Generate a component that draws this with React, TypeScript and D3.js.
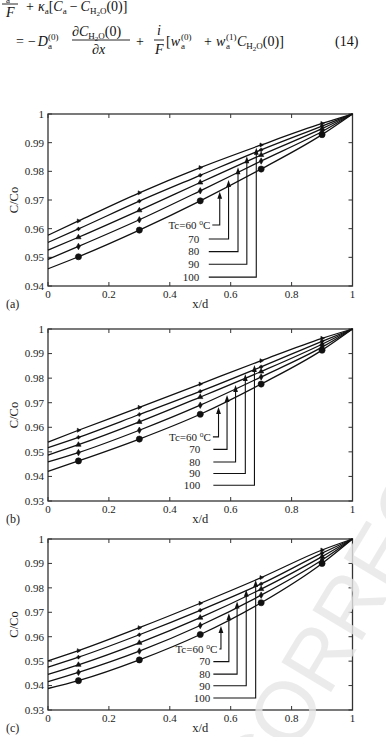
import React from 'react';
import * as d3 from 'd3';

// x/d positions of the computed points (markers drawn at 0.1 ... 0.9)
const X_POS = [0, 0.1, 0.3, 0.5, 0.7, 0.9, 1];
const TC = [60, 70, 80, 90, 100];
const X_TICKS = [0, 0.2, 0.4, 0.6, 0.8, 1];

// panel (a)
const A_TC60 = [0.946, 0.9502, 0.9595, 0.9697, 0.9808, 0.9928, 1];
const A_TC70 = [0.9493, 0.9538, 0.9631, 0.9732, 0.9836, 0.9939, 1];
const A_TC80 = [0.9525, 0.957, 0.9664, 0.9761, 0.9857, 0.9949, 1];
const A_TC90 = [0.9552, 0.9599, 0.9696, 0.9786, 0.9875, 0.9958, 1];
const A_TC100 = [0.9577, 0.9627, 0.9725, 0.9813, 0.9892, 0.9967, 1];
const A_ARROW_X = [0.564, 0.593, 0.624, 0.653, 0.684];
const A_ARROW_TIP = [0.9729, 0.977, 0.9814, 0.9853, 0.9882];
const A_LABEL_Y = [0.9613, 0.9564, 0.952, 0.9476, 0.9431];

// panel (b)
const B_TC60 = [0.9421, 0.9463, 0.9552, 0.9653, 0.9776, 0.9914, 1];
const B_TC70 = [0.9459, 0.9497, 0.9588, 0.969, 0.9805, 0.9926, 1];
const B_TC80 = [0.9487, 0.9529, 0.9622, 0.9723, 0.9827, 0.9938, 1];
const B_TC90 = [0.9517, 0.9559, 0.9652, 0.9746, 0.9846, 0.995, 1];
const B_TC100 = [0.954, 0.9588, 0.9681, 0.9776, 0.9871, 0.9962, 1];
const B_ARROW_X = [0.56, 0.588, 0.616, 0.648, 0.678];
const B_ARROW_TIP = [0.9683, 0.9731, 0.9772, 0.9817, 0.9853];
const B_LABEL_Y = [0.9561, 0.951, 0.9459, 0.9412, 0.9364];

// panel (c)
const C_TC60 = [0.9388, 0.942, 0.9505, 0.9609, 0.9739, 0.99, 1];
const C_TC70 = [0.9416, 0.9454, 0.9541, 0.9646, 0.977, 0.9914, 1];
const C_TC80 = [0.9446, 0.9485, 0.9575, 0.9678, 0.9795, 0.9928, 1];
const C_TC90 = [0.9475, 0.9516, 0.9608, 0.9708, 0.9816, 0.9942, 1];
const C_TC100 = [0.9501, 0.9543, 0.9637, 0.9737, 0.9842, 0.9955, 1];
const C_ARROW_X = [0.568, 0.594, 0.621, 0.651, 0.682];
const C_ARROW_TIP = [0.9644, 0.9696, 0.9744, 0.9792, 0.9832];
const C_LABEL_Y = [0.955, 0.9498, 0.9447, 0.9399, 0.9349];

const W = 386;
const H = 737;
const LEFT = 48;
const RIGHT = 352.5;
const SERIF = '"Liberation Serif", "Times New Roman", Times, serif';
const INK = '#111';

const markerPath = (tc: number) => {
  if (tc === 60) return d3.symbol(d3.symbolCircle, 30)();
  if (tc === 70) return d3.symbol(d3.symbolDiamond, 12)();
  if (tc === 80) return d3.symbol(d3.symbolTriangle, 12)();
  if (tc === 90) return d3.symbol(d3.symbolCross, 6)();
  return d3.symbol(d3.symbolTriangle, 7)();
};

type PanelProps = {
  top: number;
  bottom: number;
  yMin: number;
  series: number[][];
  arrowX: number[];
  arrowTip: number[];
  labelY: number[];
  tag: string;
  numEnd: number;
  leaderStart: number;
  tcEnd: number;
};

const Panel = ({ top, bottom, yMin, series, arrowX, arrowTip, labelY, tag, numEnd, leaderStart, tcEnd }: PanelProps) => {
  const x = d3.scaleLinear().domain([0, 1]).range([LEFT, RIGHT]);
  const y = d3.scaleLinear().domain([yMin, 1]).range([bottom, top]);
  const yTicks = y.ticks(Math.round((1 - yMin) * 100));
  const line = d3.line<number>()
    .x((_, i) => x(X_POS[i]))
    .y(d => y(d))
    .curve(d3.curveMonotoneX);
  const fmt = (v: number) => (Math.abs(v - 1) < 1e-9 ? '1' : v.toFixed(2));

  return (
    <g>
      <rect x={LEFT} y={top} width={RIGHT - LEFT} height={bottom - top} fill="none" stroke="#333" strokeWidth={1.3} />
      {X_TICKS.map(t => (
        <g key={'x' + t}>
          <line x1={x(t)} x2={x(t)} y1={bottom} y2={bottom - 4} stroke="#333" />
          <line x1={x(t)} x2={x(t)} y1={top} y2={top + 4} stroke="#333" />
          <text x={x(t)} y={bottom + 12} textAnchor="middle" fontSize={11} fill="#222">{String(t)}</text>
        </g>
      ))}
      {yTicks.map(t => (
        <g key={'y' + t}>
          <line x1={LEFT} x2={LEFT + 4} y1={y(t)} y2={y(t)} stroke="#333" />
          <line x1={RIGHT} x2={RIGHT - 4} y1={y(t)} y2={y(t)} stroke="#333" />
          <text x={LEFT - 4} y={y(t)} dy="0.35em" textAnchor="end" fontSize={11} fill="#222">{fmt(t)}</text>
        </g>
      ))}
      <text x={(LEFT + RIGHT) / 2} y={bottom + 22} textAnchor="middle" fontSize={12.5} fill="#222">x/d</text>
      <text x={6} y={bottom + 22} fontSize={12} fill="#222">{tag}</text>
      <text transform={`translate(14,${(top + bottom) / 2}) rotate(-90)`} textAnchor="middle" dy="0.35em" fontSize={12.5} fill="#222">C/Co</text>

      {series.map((s, k) => (
        <g key={'s' + k}>
          <path d={line(s) || ''} fill="none" stroke={INK} strokeWidth={1.3} />
          {s.slice(1, 6).map((v, i) => (
            <path key={i} d={markerPath(TC[k]) || ''}
              transform={`translate(${x(X_POS[i + 1])},${y(v)})${TC[k] === 100 ? ' rotate(90)' : ''}`}
              fill={INK} stroke={INK} strokeWidth={0.6} />
          ))}
        </g>
      ))}

      {TC.map((tc, k) => {
        const ax = x(arrowX[k]);
        const ly = y(labelY[k]);
        const ty = y(arrowTip[k]);
        const start = k === 0 ? x(tcEnd) + 2 : x(leaderStart);
        return (
          <g key={'a' + tc}>
            <path d={`M${start},${ly}H${ax}V${ty + 6}`} fill="none" stroke={INK} strokeWidth={1.1} />
            <path d={`M${ax},${ty}L${ax - 2.4},${ty + 7}L${ax + 2.4},${ty + 7}Z`} fill={INK} />
            {k === 0 ? (
              <text x={x(tcEnd)} y={ly} dy="0.35em" textAnchor="end" fontSize={11} fill="#222">
                Tc=60 <tspan dy={-4} fontSize={7.5}>o</tspan><tspan dy={4}>C</tspan>
              </text>
            ) : (
              <text x={x(numEnd)} y={ly} dy="0.35em" textAnchor="end" fontSize={11} fill="#222">{String(tc)}</text>
            )}
          </g>
        );
      })}
    </g>
  );
};

const Equation = () => (
  <g fontSize={14} fill="#111">
    <text x={6} y={3} fontSize={9}>a</text>
    <line x1={2} x2={18} y1={4} y2={4} stroke="#111" strokeWidth={0.9} />
    <text x={6} y={17} fontStyle="italic">F</text>
    <text x={26} y={11}>
      +<tspan dx={4} fontStyle="italic">κ</tspan><tspan fontSize={9} dy={3}>a</tspan>
      <tspan dy={-3}>[</tspan><tspan fontStyle="italic">C</tspan><tspan fontSize={9} dy={3}>a</tspan>
      <tspan dy={-3} dx={3}>−</tspan><tspan dx={3} fontStyle="italic">C</tspan>
      <tspan fontSize={9} dy={3}>H</tspan><tspan fontSize={7} dy={2}>2</tspan><tspan fontSize={9} dy={-2}>O</tspan>
      <tspan dy={-3}>(0)]</tspan>
    </text>

    <text x={16} y={46}>
      =<tspan dx={4}>−</tspan><tspan dx={2} fontStyle="italic">D</tspan>
    </text>
    <text x={48} y={49} fontSize={9}>a</text>
    <text x={48} y={40} fontSize={9}>(0)</text>
    <text x={72} y={36}>
      ∂<tspan fontStyle="italic">C</tspan><tspan fontSize={9} dy={3}>H</tspan><tspan fontSize={7} dy={2}>2</tspan>
      <tspan fontSize={9} dy={-2}>O</tspan><tspan dy={-3}>(0)</tspan>
    </text>
    <line x1={72} x2={130} y1={40} y2={40} stroke="#111" strokeWidth={0.9} />
    <text x={92} y={54}>∂<tspan fontStyle="italic">x</tspan></text>
    <text x={136} y={46}>+</text>
    <text x={157} y={35} fontStyle="italic">i</text>
    <line x1={154} x2={164} y1={40} y2={40} stroke="#111" strokeWidth={0.9} />
    <text x={155} y={54} fontStyle="italic">F</text>
    <text x={166} y={46}>[<tspan fontStyle="italic">w</tspan></text>
    <text x={181} y={49} fontSize={9}>a</text>
    <text x={181} y={40} fontSize={9}>(0)</text>
    <text x={204} y={46}>+</text>
    <text x={216} y={46} fontStyle="italic">w</text>
    <text x={226} y={49} fontSize={9}>a</text>
    <text x={226} y={40} fontSize={9}>(1)</text>
    <text x={237} y={46}>
      <tspan fontStyle="italic">C</tspan><tspan fontSize={9} dy={3}>H</tspan><tspan fontSize={7} dy={2}>2</tspan>
      <tspan fontSize={9} dy={-2}>O</tspan><tspan dy={-3}>(0)]</tspan>
    </text>
    <text x={335} y={46}>(14)</text>
  </g>
);

export default function App() {
  return (
    <svg width={W} height={H} style={{ position: 'absolute', left: 0, top: 0, background: '#fff', fontFamily: SERIF }}>
      <rect width={W} height={H} fill="#fff" />
      <Equation />
      <Panel top={114} bottom={286} yMin={0.94}
        series={[A_TC60, A_TC70, A_TC80, A_TC90, A_TC100]}
        arrowX={A_ARROW_X} arrowTip={A_ARROW_TIP} labelY={A_LABEL_Y}
        tag="(a)" numEnd={0.497} leaderStart={0.528} tcEnd={0.533} />
      <Panel top={329} bottom={501} yMin={0.93}
        series={[B_TC60, B_TC70, B_TC80, B_TC90, B_TC100]}
        arrowX={B_ARROW_X} arrowTip={B_ARROW_TIP} labelY={B_LABEL_Y}
        tag="(b)" numEnd={0.5} leaderStart={0.543} tcEnd={0.535} />
      <Panel top={539} bottom={710} yMin={0.93}
        series={[C_TC60, C_TC70, C_TC80, C_TC90, C_TC100]}
        arrowX={C_ARROW_X} arrowTip={C_ARROW_TIP} labelY={C_LABEL_Y}
        tag="(c)" numEnd={0.533} leaderStart={0.543} tcEnd={0.556} />
      <text transform="translate(200,910) rotate(-59)" style={{ fontFamily: '"Liberation Sans", Arial, sans-serif' }}
        fontSize={84} fill="#e6e6e6" fillOpacity={0.8}>UNCORRECTED PROOF</text>
    </svg>
  );
}
